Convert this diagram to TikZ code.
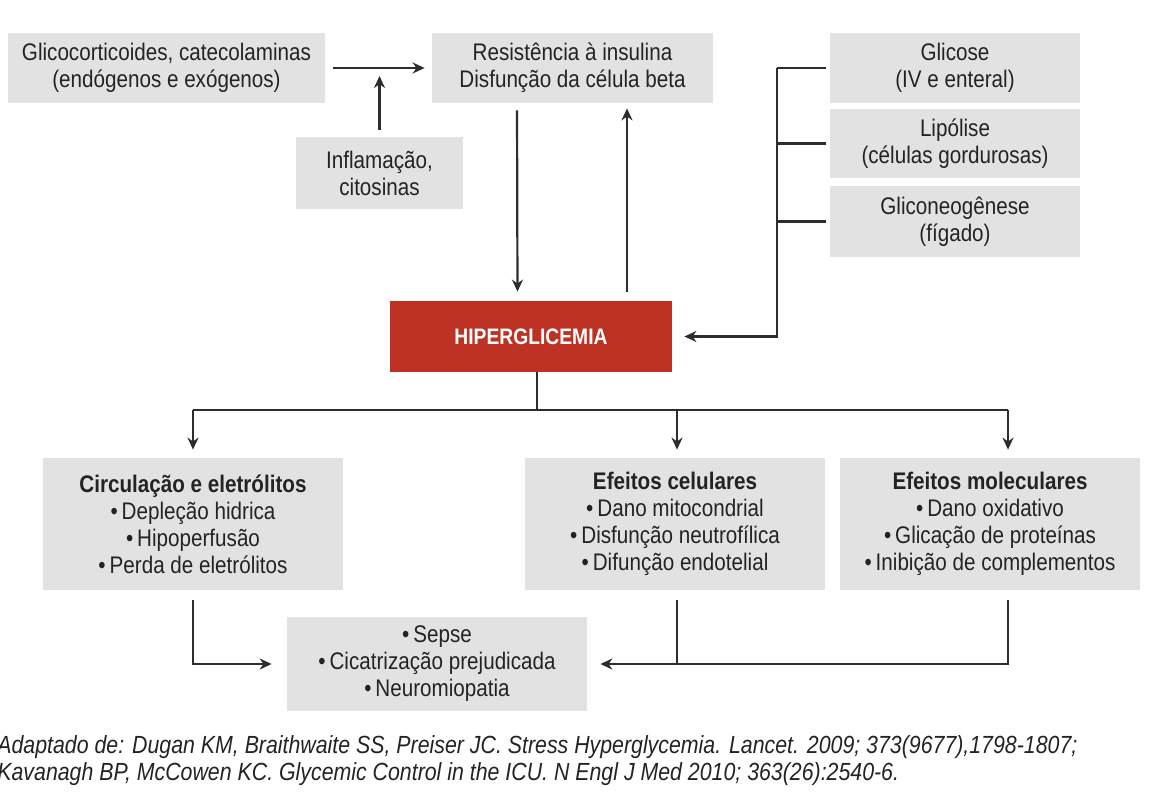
\documentclass[tikz,border=0pt]{standalone}
\usepackage{fontspec}
\setmainfont{Liberation Sans}[FakeStretch=0.86]
\usetikzlibrary{positioning,calc,arrows.meta}
\definecolor{boxgray}{RGB}{226,226,226}
\definecolor{hiperred}{RGB}{190,50,36}
\definecolor{linegray}{RGB}{45,45,45}
\definecolor{textgray}{RGB}{35,35,35}

\begin{document}
\begin{tikzpicture}[x=0.5pt,y=-0.5pt,>={Stealth[length=6pt,width=5.5pt]},
  caixa/.style = {fill=boxgray, text=textgray, align=center, inner sep=0pt, font=\fontsize{12}{13.5}\selectfont},
  seta/.style = {->, draw=linegray, line width=1.1pt},
  linha/.style = {draw=linegray, line width=1.1pt},]
\useasboundingbox (0,0) rectangle (1170,798);
%Top row
\node (glico) at (166.5,68)[caixa, minimum width=158.5pt, minimum height=35pt] {Glicocorticoides, catecolaminas\\(endógenos e exógenos)};
\node (resist) at (572.5,68)[caixa, minimum width=140.5pt, minimum height=35pt] {Resistência à insulina\\Disfunção da célula beta};
\node (inflam) at (379.5,173)[caixa, minimum width=83.5pt, minimum height=36pt] {Inflamação,\\citosinas};
\node (glicose) at (955,68)[caixa, minimum width=125pt, minimum height=35pt] {Glicose\\(IV e enteral)};
\node (lipolise) at (955,143.5)[caixa, minimum width=125pt, minimum height=34.5pt] {Lipólise\\(células gordurosas)};
\node (glicon) at (955,221.5)[caixa, minimum width=125pt, minimum height=35.5pt] {Gliconeogênese\\(fígado)};
%Center
\node (hiper) at (531,336.5)[caixa, fill=hiperred, text=white, minimum width=141pt, minimum height=35.5pt, font=\fontsize{11.2}{12}\selectfont\bfseries] {HIPERGLICEMIA};
%Effects
\node (circ) at (193,524)[caixa, minimum width=150pt, minimum height=66pt] {\textbf{Circulação e eletrólitos}\\•\,Depleção hidrica\\•\,Hipoperfusão\\•\,Perda de eletrólitos};
\node (celul) at (675,524)[caixa, minimum width=150pt, minimum height=66pt] {\textbf{Efeitos celulares}\\•\,Dano mitocondrial\\•\,Disfunção neutrofílica\\•\,Difunção endotelial};
\node (molec) at (990,524)[caixa, minimum width=150pt, minimum height=66pt] {\textbf{Efeitos moleculares}\\•\,Dano oxidativo\\•\,Glicação de proteínas\\•\,Inibição de complementos};
\node (result) at (437,664)[caixa, minimum width=150pt, minimum height=47pt] {•\,Sepse\\•\,Cicatrização prejudicada\\•\,Neuromiopatia};
%Source
\node (fonte) at (-3,761)[anchor=west, align=left, inner sep=0pt, text=textgray, font=\fontsize{12.4}{13.5}\selectfont\itshape] {Adaptado de: Dugan KM, Braithwaite SS, Preiser JC. Stress Hyperglycemia. Lancet. 2009; 373(9677),1798-1807;\\Kavanagh BP, McCowen KC. Glycemic Control in the ICU. N Engl J Med 2010; 363(26):2540-6.};
%Connectors top
\coordinate (juncao) at (379.5,76);
\coordinate (barra) at (777,0);
\coordinate (ramo) at (537,410);
\draw[seta, shorten <=4pt, shorten >=3.5pt] (glico) -- (resist);
\draw[seta, shorten <=3.5pt] (inflam.north) -- (juncao);
\draw[seta, shorten <=3.5pt, shorten >=4.5pt] ([xshift=-27.75pt]resist.south) -- ([xshift=-6.75pt]hiper.north);
\draw[seta, shorten <=4.5pt, shorten >=2.5pt] ([xshift=48pt]hiper.north) -- ([xshift=27.25pt]resist.south);
\draw[linha] ([xshift=-2pt]lipolise.west) -- (lipolise.west -| barra);
\draw[linha] ([xshift=-2pt]glicon.west) -- (glicon.west -| barra);
\draw[linha] ([xshift=-2pt]glicose.west) -- (glicose.west -| barra);
\draw[seta, shorten >=6pt] (glicose.west -| barra) |- (hiper.east);
%Connectors bottom
\draw[linha] (hiper.south -| ramo) -- (ramo);
\draw[linha] (circ.north |- ramo) -- ([xshift=9pt]molec.north |- ramo);
\draw[seta, shorten >=4pt] (circ.north |- ramo) -- (circ.north);
\draw[seta, shorten >=4pt] ([xshift=1pt]celul.north |- ramo) -- ([xshift=1pt]celul.north);
\draw[seta, shorten >=4pt] ([xshift=9pt]molec.north |- ramo) -- ([xshift=9pt]molec.north);
\draw[seta, shorten <=5pt, shorten >=7.5pt] (circ.south) |- (result.west);
\draw[seta, shorten <=5pt, shorten >=6.5pt] ([xshift=9pt]molec.south) |- (result.east);
\draw[linha, shorten <=5pt] ([xshift=1pt]celul.south) -- ([xshift=1pt]celul.south |- result.east);
\end{tikzpicture}
\end{document}
